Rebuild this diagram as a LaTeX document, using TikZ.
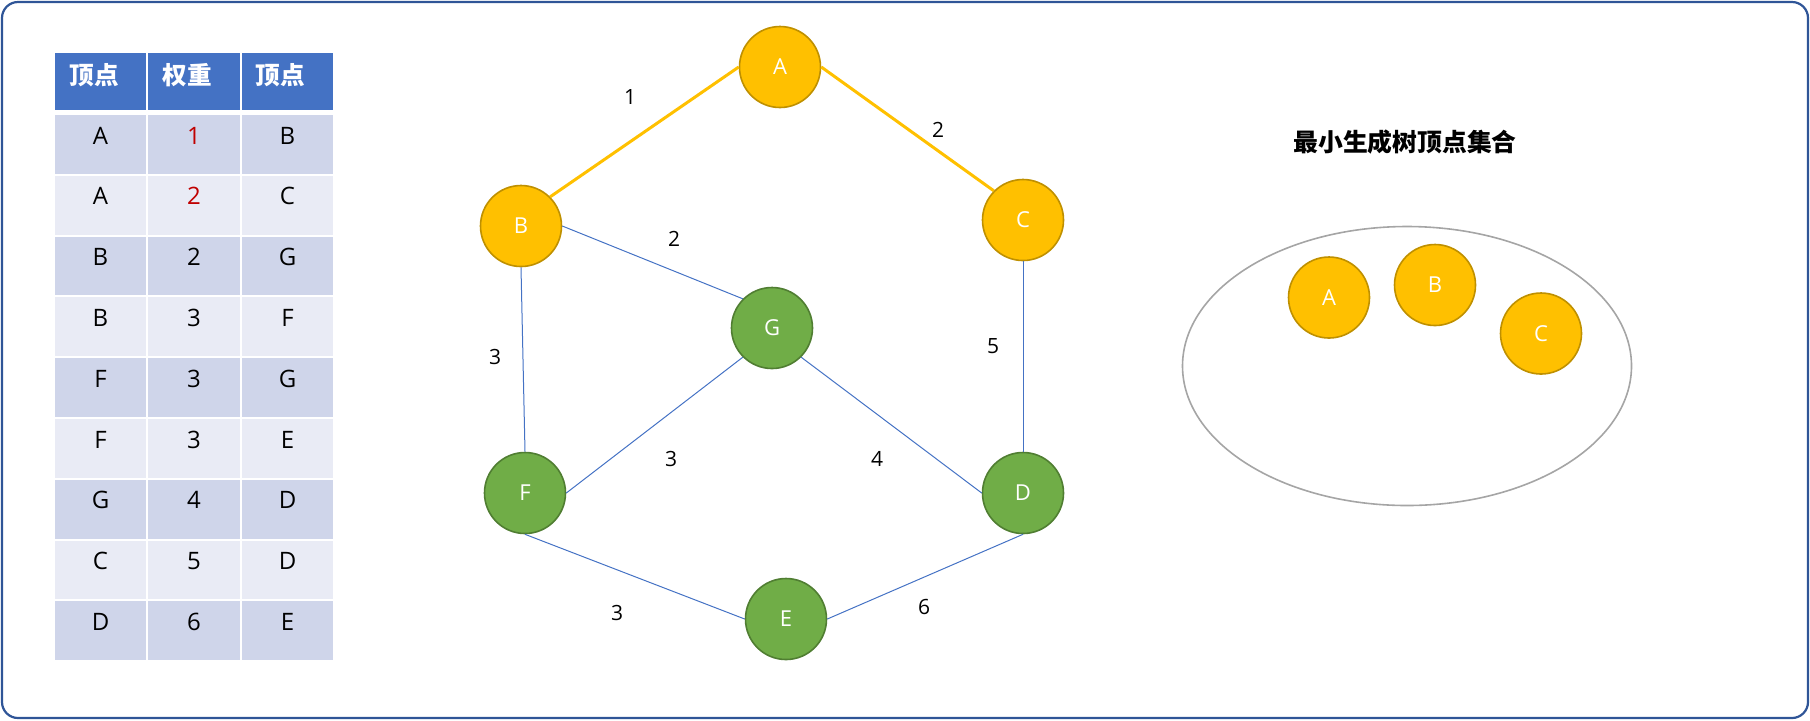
\documentclass[tikz,border=0pt]{standalone}
\usepackage{fontspec}
\setmainfont{Open Sans}
\newfontfamily\cjk{Noto Sans CJK SC}
\definecolor{frame}{HTML}{2F5597}
\definecolor{hdr}{HTML}{4472C4}
\definecolor{rowA}{HTML}{CFD5EA}
\definecolor{rowB}{HTML}{E9EBF5}
\definecolor{gold}{HTML}{FFC000}
\definecolor{goldline}{HTML}{BF9000}
\definecolor{grn}{HTML}{70AD47}
\definecolor{grnline}{HTML}{507E32}
\definecolor{edgeblue}{HTML}{4472C4}
\definecolor{redtxt}{HTML}{C00000}
\definecolor{ellgray}{HTML}{A5A5A5}
\tikzset{
  vtx/.style={circle, minimum size=40.5pt, inner sep=0pt, line width=0.8pt, text=white, font=\fontsize{11}{13}\selectfont},
  vgold/.style={vtx, fill=gold, draw=goldline},
  vgreen/.style={vtx, fill=grn, draw=grnline},
  mst/.style={draw=gold, line width=1.5pt},
  plain/.style={draw=edgeblue, line width=0.5pt},
  wlabel/.style={font=\fontsize{10.5}{12}\selectfont, text=black, inner sep=0pt},
  htext/.style={anchor=base west, text=white, font=\cjk\bfseries\fontsize{12.3}{14}\selectfont, inner sep=0pt},
  dtext/.style={anchor=base, font=\fontsize{12}{14}\selectfont, inner sep=0pt},
}
\begin{document}
\begin{tikzpicture}[x=0.5pt,y=-0.5pt]
\useasboundingbox (0,0) rectangle (1810,720);
\draw[frame, line width=1.1pt, rounded corners=8pt] (2,2) rectangle (1808,718);
% table header
\foreach \xa/\xb in {55/146,148/240,242/333}{
  \fill[hdr] (\xa,53) rectangle (\xb,110);
}
\node[htext] (h1) at (69,84) {顶点};
\node[htext] (h2) at (162,84) {权重};
\node[htext] (h3) at (255,84) {顶点};
% table rows
\foreach \a/\w/\b/\wc [count=\i] in {A/1/B/redtxt,A/2/C/redtxt,B/2/G/black,B/3/F/black,F/3/G/black,F/3/E/black,G/4/D/black,C/5/D/black,D/6/E/black}{
  \pgfmathsetmacro{\top}{115+60.8*(\i-1)}
  \pgfmathsetmacro{\bot}{\top+58.8}
  \pgfmathsetmacro{\base}{\top+29}
  \pgfmathtruncatemacro{\odd}{mod(\i,2)}
  \ifnum\odd=1 \def\rc{rowA}\else\def\rc{rowB}\fi
  \fill[\rc] (55,\top) rectangle (146,\bot);
  \fill[\rc] (148,\top) rectangle (240,\bot);
  \fill[\rc] (242,\top) rectangle (333,\bot);
  \node[dtext] (ra\i) at (100.5,\base) {\a};
  \node[dtext, text=\wc] (rw\i) at (194,\base) {\w};
  \node[dtext] (rb\i) at (287.5,\base) {\b};
}
% graph nodes
\node[vgold] (A) at (780,67) {A};
\node[vgold] (B) at (521,226) {B};
\node[vgold] (C) at (1023,220) {C};
\node[vgreen] (G) at (772,328) {G};
\node[vgreen] (F) at (525,493) {F};
\node[vgreen] (D) at (1023,493) {D};
\node[vgreen] (E) at (786,619) {E};
% edges
\draw[plain] (B.east) -- (G.north west);
\draw[plain] (B.south) -- (F.north);
\draw[plain] (C.south) -- (D.north);
\draw[plain] (G.south west) -- (F.east);
\draw[plain] (G.south east) -- (D.west);
\draw[plain] (F.south) -- (E.west);
\draw[plain] (E.east) -- (D.south);
\draw[mst] (A.west) -- (B.north east);
\draw[mst] (A.east) -- (C.north west);
% edge labels
\node[wlabel] (l1) at (630,97) {1};
\node[wlabel] (l2) at (938,130) {2};
\node[wlabel] (l3) at (674,239) {2};
\node[wlabel] (l4) at (495,357) {3};
\node[wlabel] (l5) at (993,346) {5};
\node[wlabel] (l6) at (671,459) {3};
\node[wlabel] (l7) at (877,459) {4};
\node[wlabel] (l8) at (617,613) {3};
\node[wlabel] (l9) at (924,607) {6};
% right side
\node[font=\cjk\bfseries\fontsize{12.4}{14}\selectfont, inner sep=0pt] (title) at (1405,142) {最小生成树顶点集合};
\draw[ellgray, line width=0.8pt] (1407,366) ellipse [x radius=224.5, y radius=139.5];
\node[vgold] (sA) at (1329,297.5) {A};
\node[vgold] (sB) at (1435,285) {B};
\node[vgold] (sC) at (1541,333.5) {C};
\end{tikzpicture}
\end{document}
